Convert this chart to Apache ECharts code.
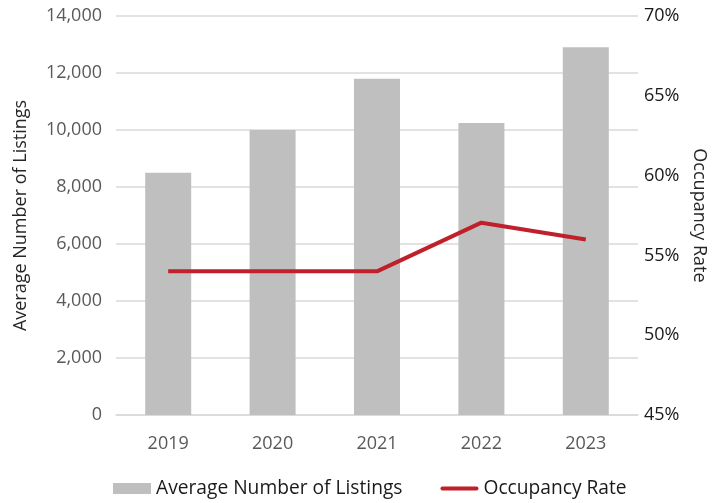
<!DOCTYPE html>
<html>
<head>
<meta charset="utf-8">
<script src="https://cdn.jsdelivr.net/npm/echarts@6/dist/echarts.min.js"></script>
<style>
  html, body { margin: 0; padding: 0; background: #fff; }
  #main { width: 723px; height: 503px; }
</style>
</head>
<body>
<div id="main"></div>
<script>
  // data
  var years = ['2019', '2020', '2021', '2022', '2023'];
  var listings = [8500, 10000, 11800, 10250, 12900];
  var occupancy = [54.0, 54.0, 54.0, 57.05, 56.0];

  var font = 'Open Sans';
  var chart = echarts.init(document.getElementById('main'));

  chart.setOption({
    animation: false,
    textStyle: { fontFamily: font },
    grid: { left: 116, right: 85, top: 16, bottom: 88 },
    legend: {
      bottom: 0,
      left: 108,
      itemGap: 38,
      textStyle: { fontSize: 19.2, color: '#1a1a1a', fontFamily: font },
      data: [
        { name: 'Average Number of Listings', icon: 'rect', itemStyle: { color: '#bfbfbf' } },
        { name: 'Occupancy Rate', icon: 'path://M2,0 L38,0 A2,2 0 0 1 38,4 L2,4 A2,2 0 0 1 2,0 Z' }
      ],
      itemWidth: 38,
      itemHeight: 11
    },
    xAxis: {
      type: 'category',
      data: years,
      axisLine: { lineStyle: { color: '#d9d9d9', width: 1.5 } },
      axisTick: { show: false },
      axisLabel: { fontSize: 18, color: '#595959', margin: 20 }
    },
    yAxis: [
      {
        type: 'value',
        min: 0, max: 14000, interval: 2000,
        name: 'Average Number of Listings',
        nameLocation: 'middle',
        nameGap: 86,
        nameTextStyle: { fontSize: 18, color: '#262626' },
        axisLabel: {
          fontSize: 18, color: '#595959', margin: 14,
          formatter: function (v) { return v.toLocaleString('en-US'); }
        },
        splitLine: { lineStyle: { color: '#d9d9d9', width: 1.5 } }
      },
      {
        type: 'value',
        min: 45, max: 70, interval: 5,
        name: 'Occupancy Rate',
        nameLocation: 'middle',
        nameRotate: -90,
        nameGap: 50,
        nameTextStyle: { fontSize: 18, color: '#262626' },
        axisLabel: {
          fontSize: 18, color: '#1a1a1a', margin: 6,
          formatter: '{value}%'
        },
        splitLine: { show: false }
      }
    ],
    series: [
      {
        name: 'Average Number of Listings',
        type: 'bar',
        data: listings,
        barWidth: 46,
        itemStyle: { color: '#bfbfbf' }
      },
      {
        name: 'Occupancy Rate',
        type: 'line',
        yAxisIndex: 1,
        data: occupancy,
        symbol: 'none',
        lineStyle: { color: '#c0202a', width: 4 },
        itemStyle: { color: '#c0202a' }
      }
    ]
  });
</script>
</body>
</html>
